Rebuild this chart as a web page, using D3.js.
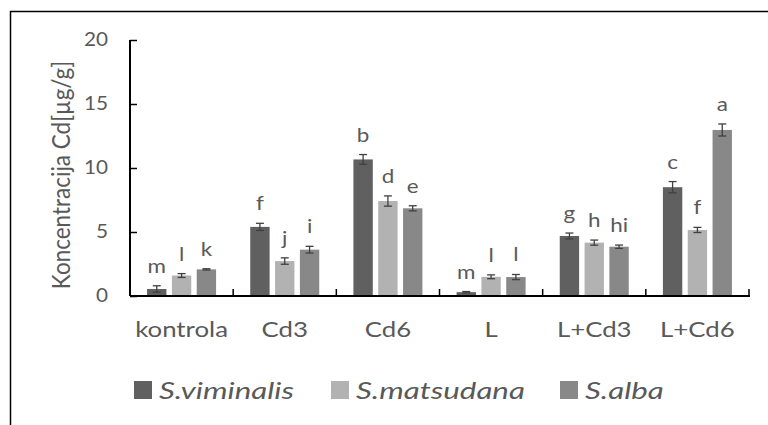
<!DOCTYPE html>
<html>
<head>
<meta charset="utf-8">
<script src="https://cdn.jsdelivr.net/npm/d3@7"></script>
<style>
body { margin: 0; background: #fff; }
svg text { font-family: Lato, sans-serif; fill: #595959; }
</style>
</head>
<body>
<svg id="chart"></svg>
<script>
var categories = ["kontrola", "Cd3", "Cd6", "L", "L+Cd3", "L+Cd6"]
var seriesNames = ["S.viminalis", "S.matsudana", "S.alba"]
var colors = ["#606060", "#b2b2b2", "#888888"]

var viminalis = [0.55, 5.4, 10.67, 0.3, 4.69, 8.5]
var matsudana = [1.6, 2.73, 7.42, 1.5, 4.17, 5.16]
var alba = [2.08, 3.62, 6.85, 1.48, 3.85, 12.97]

var errViminalis = [0.25, 0.28, 0.38, 0.05, 0.23, 0.44]
var errMatsudana = [0.15, 0.25, 0.4, 0.15, 0.2, 0.2]
var errAlba = [0.05, 0.26, 0.2, 0.2, 0.13, 0.47]

var lettersViminalis = ["m", "f", "b", "m", "g", "c"]
var lettersMatsudana = ["l", "j", "d", "l", "h", "f"]
var lettersAlba = ["k", "i", "e", "l", "hi", "a"]

var yTicks = [0, 5, 10, 15, 20]

var screen = {width: 768, height: 425}
var margin = {left: 130, right: 19, top: 40, bottom: 129}
var width = screen.width - margin.left - margin.right
var height = screen.height - margin.top - margin.bottom

var values = [viminalis, matsudana, alba]
var errs = [errViminalis, errMatsudana, errAlba]
var letters = [lettersViminalis, lettersMatsudana, lettersAlba]

// the source picture is a bit wider than tall, so stretch text sideways
var stretch = function(sel, s){
  sel.each(function(){
    var t = d3.select(this)
    var x = +t.attr("x") || 0
    var y = +t.attr("y") || 0
    t.attr("x", 0).attr("y", 0)
      .attr("transform", "translate(" + x + "," + y + ") scale(" + s + ",1)")
  })
}

var svg = d3.select("#chart")
  .attr("width", screen.width)
  .attr("height", screen.height)

// outer frame (cropped on right and bottom)
svg.append("path")
  .attr("d", "M10.5," + screen.height + "V11.5H" + screen.width)
  .attr("fill", "none")
  .attr("stroke", "#000")
  .attr("stroke-width", 1.5)

var xScale = d3.scaleBand()
  .domain(categories)
  .range([0, width])

var xInner = d3.scaleBand()
  .domain(d3.range(3))
  .range([0, 69])
  .paddingInner(0.22)

var yScale = d3.scaleLinear()
  .domain([0, 20])
  .range([height, 0])

var g = svg.append("g")
  .attr("transform", "translate(" + margin.left + "," + margin.top + ")")

var bars = []
categories.forEach(function(c, i){
  values.forEach(function(s, j){
    bars.push({cat: c, s: j, v: s[i], e: errs[j][i], l: letters[j][i]})
  })
})

var groupOffset = (xScale.bandwidth() - 69) / 2
var barX = function(d){ return xScale(d.cat) + groupOffset + xInner(d.s) }

g.selectAll(".bar")
  .data(bars)
  .enter()
  .append("rect")
  .attr("class", "bar")
  .attr("x", barX)
  .attr("y", function(d){ return yScale(d.v) })
  .attr("width", xInner.bandwidth())
  .attr("height", function(d){ return height - yScale(d.v) })
  .attr("fill", function(d){ return colors[d.s] })

// error bars
var eb = g.selectAll(".err")
  .data(bars)
  .enter()
  .append("g")
  .attr("class", "err")
  .attr("transform", function(d){
    return "translate(" + (barX(d) + xInner.bandwidth() / 2) + ",0)"
  })
  .attr("stroke", "#404040")
  .attr("stroke-width", 1.3)

eb.append("line")
  .attr("x1", 0).attr("x2", 0)
  .attr("y1", function(d){ return yScale(d.v + d.e) })
  .attr("y2", function(d){ return yScale(Math.max(0, d.v - d.e)) })
eb.append("line")
  .attr("x1", -4).attr("x2", 4)
  .attr("y1", function(d){ return yScale(d.v + d.e) })
  .attr("y2", function(d){ return yScale(d.v + d.e) })
eb.append("line")
  .attr("x1", -4).attr("x2", 4)
  .attr("y1", function(d){ return yScale(Math.max(0, d.v - d.e)) })
  .attr("y2", function(d){ return yScale(Math.max(0, d.v - d.e)) })

// letters
var lbl = g.selectAll(".lbl")
  .data(bars)
  .enter()
  .append("text")
  .attr("class", "lbl")
  .attr("x", function(d){ return barX(d) + xInner.bandwidth() / 2 })
  .attr("y", function(d){ return yScale(d.v + d.e) - 13 })
  .attr("text-anchor", "middle")
  .style("font-size", "19.5px")
  .text(function(d){ return d.l })
stretch(lbl, 1.15)

// y axis
var yAxis = d3.axisLeft(yScale).tickValues(yTicks).tickSize(-7).tickPadding(16)
var ya = g.append("g").call(yAxis)
ya.attr("font-family", null).attr("font-size", null)
ya.select(".domain").attr("stroke", "#000").attr("stroke-width", 2).attr("d", "M0,0V" + height)
ya.selectAll(".tick line").attr("stroke", "#000").attr("stroke-width", 1.5)
ya.selectAll(".tick text")
  .style("font-size", "18.5px")
  .attr("fill", "#595959")
  .attr("x", -22 / 1.12)
  .attr("transform", "scale(1.12,1)")

// x axis
var xa = g.append("g").attr("transform", "translate(0," + height + ")")
xa.append("line")
  .attr("x1", 0).attr("x2", width + 1)
  .attr("stroke", "#000").attr("stroke-width", 2)
xa.selectAll(".xt")
  .data(categories)
  .enter()
  .append("line")
  .attr("x1", function(d){ return xScale(d) + xScale.bandwidth() })
  .attr("x2", function(d){ return xScale(d) + xScale.bandwidth() })
  .attr("y1", 0).attr("y2", -7)
  .attr("stroke", "#000").attr("stroke-width", 1.5)
var xl = xa.selectAll(".xl")
  .data(categories)
  .enter()
  .append("text")
  .attr("x", function(d){ return xScale(d) + xScale.bandwidth() / 2 })
  .attr("y", 41)
  .attr("text-anchor", "middle")
  .style("font-size", "21.5px")
  .text(function(d){ return d })
stretch(xl, 1.2)

// y label
svg.append("text")
  .attr("transform", "translate(70,175) rotate(-90) scale(1,1.15)")
  .attr("text-anchor", "middle")
  .style("font-size", "22.5px")
  .text("Koncentracija Cd[µg/g]")

// legend
var legendX = [134, 331, 560]
var leg = svg.selectAll(".leg")
  .data(seriesNames)
  .enter()
  .append("g")
  .attr("transform", function(d, i){ return "translate(" + legendX[i] + ",381)" })
leg.append("rect")
  .attr("width", 18).attr("height", 18)
  .attr("fill", function(d, i){ return colors[i] })
var lt = leg.append("text")
  .attr("x", 25).attr("y", 18)
  .style("font-size", "23.5px")
  .style("font-style", "italic")
  .text(function(d){ return d })
stretch(lt, 1.33)
</script>
</body>
</html>
